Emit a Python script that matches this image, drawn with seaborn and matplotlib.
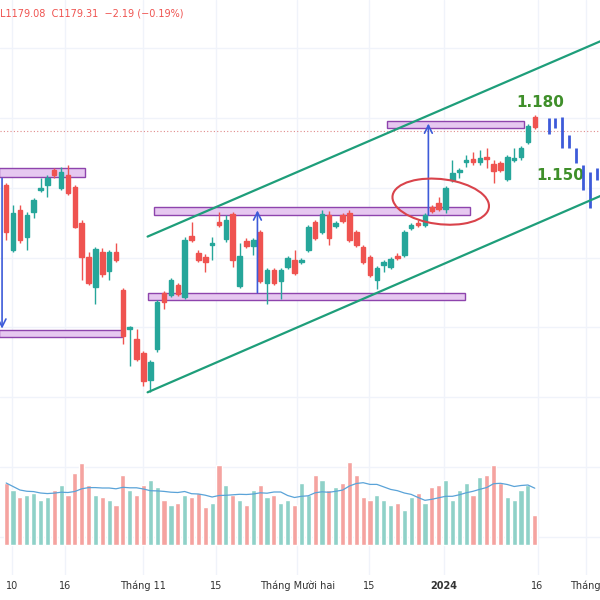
import numpy as np
import pandas as pd
import matplotlib.pyplot as plt
import seaborn as sns
from matplotlib.patches import Rectangle, Ellipse

sns.set_style('white')
plt.rcParams['font.family'] = ['DejaVu Sans']

# OHLC (price), one row per trading day
opens = [1165.75,1149.5,1159.5,1152.75,1159,1164.5,1165.75,1169.5,1165,1168.25,1165.25,1156.25,1147.75,1140.25,1149,1144.25,1149,1139.25,1129.5,1127,
         1123.5,1116.75,1124.5,1138.5,1138,1140.75,1137.5,1153,1148.75,1147.75,1150.75,1156.5,1152.25,1158.5,1140.5,1151.75,1150.5,1154,1141.25,1144.5,
         1141.75,1145.25,1147,1146.5,1149.5,1156.5,1154,1158.25,1155.5,1158.25,1158.75,1154,1150.25,1147.75,1142,1145.75,1145.25,1148,1148.25,1155,
         1156.25,1155.75,1160.25,1161.25,1159.75,1167,1169,1171.5,1172.25,1171.5,1172.75,1171,1171.25,1167.25,1172,1172.75,1176.5,1182.75]
closes = [1154,1158.75,1152,1158.25,1162,1165,1167.5,1168.25,1169,1163.75,1155.25,1147.75,1141.25,1149.75,1143.5,1149,1147,1127.75,1130,1122,
          1116.5,1121.25,1136.25,1136.25,1142,1138.25,1152,1152,1147,1146.5,1151,1155.75,1157,1147,1148,1150.5,1152,1141.75,1144.5,1141.25,
          1144.5,1147.5,1143.75,1146.75,1155.25,1152.5,1158.5,1152.5,1156.25,1156.75,1152,1150.75,1146.5,1143.25,1145,1146.5,1147.25,1147.5,1154,1155.75,
          1155.75,1158.25,1159.25,1159.75,1165,1168.75,1169.5,1172,1171.5,1172.5,1172.25,1169.25,1169.5,1172.75,1172.5,1175,1180.5,1180.25]
highs = [1166.25,1160.75,1160.75,1159,1162.5,1167.5,1168.25,1170,1170.25,1170.75,1165.75,1157,1149,1150.25,1150,1149.5,1151.25,1139.75,1130.25,1129.5,
         1124,1121.75,1136.75,1139,1142.5,1141.25,1152.75,1156.5,1149.5,1148.5,1152.75,1159,1158.25,1159,1151.25,1152.5,1152.5,1154.5,1145,1145,
         1145,1148,1149.5,1147.5,1155.75,1157,1159.5,1159.25,1156.75,1158.75,1159.5,1154.5,1150.75,1148.25,1145.5,1147,1147.75,1148.75,1154.5,1156.25,
         1157,1158.75,1160.75,1162.75,1165.5,1172,1170,1173.25,1174,1174.5,1175,1172,1171.75,1173.25,1175,1175.5,1181,1183.25]
lows = [1152,1149,1151.25,1149.5,1157.5,1164,1162.75,1167.5,1164.5,1163.25,1155,1142,1140.75,1135.75,1142.75,1142,1146.5,1125.75,1120.25,1121.5,
        1115.25,1113.75,1123.75,1134.5,1137.5,1137.75,1137,1151.5,1146.5,1144,1147,1155.25,1151.5,1145.25,1140,1150,1148.25,1141.25,1135.75,1140.75,
        1137,1144.75,1143.25,1146,1149,1152,1153.5,1150.75,1155,1156.25,1151.5,1150.25,1146,1142.75,1139.5,1144,1144.75,1147,1147.75,1154.5,
        1155.25,1155.25,1158.75,1159.25,1158.75,1166.5,1167.5,1170.25,1170.75,1170.75,1170,1166.25,1169,1166.75,1171.5,1172,1176,1179.75]
volumes = [62,55,48,50,52,45,48,55,60,50,72,82,60,50,48,45,40,70,55,50,60,65,58,45,40,42,50,48,52,38,42,80,60,50,45,40,55,60,48,50,
           42,45,40,62,50,70,65,55,58,62,83,70,48,45,50,45,40,42,35,48,52,42,58,60,65,45,55,62,50,68,70,80,62,48,45,55,60,30]

# projected path (blue bars)
proj_hi = [1182.5,1182.5,1182.75,1178.25,1175,1170.75,1169,1170]
proj_lo = [1178.5,1180,1175,1175,1171.25,1164.5,1160,1167]

tick_pos = [0.8, 8.6, 19.9, 30.6, 42.4, 52.8, 63.8, 77.4, 84.4]
tick_lbl = ['10', '16', 'Tháng 11', '15', 'Tháng Mười hai', '15', '2024', '16', 'Tháng']

df = pd.DataFrame({'o': opens, 'c': closes, 'h': highs, 'l': lows, 'v': volumes})
df['i'] = np.arange(len(df))
df['up'] = df.c >= df.o
df['ma'] = df.v.rolling(10, min_periods=1).mean()

GREEN, RED = '#26a69a', '#ef5350'
fig = plt.figure(figsize=(6, 6), dpi=100)
ax = fig.add_axes([0, 25/600, 1, 575/600])
axv = fig.add_axes([0, 25/600, 1, 575/600], sharex=ax)
axv.patch.set_alpha(0)

# volume
vcol = ['#8fd1c8' if u else '#f5a3a0' for u in df.up]
axv.bar(df.i, df.v, width=0.75, color=vcol, zorder=1)
sns.lineplot(x=df.i, y=df.ma, ax=axv, color='#5aa3d8', lw=0.9)
axv.set_ylim(-30, 545)
axv.axis('off')

# candles
for r in df.itertuples():
    col = GREEN if r.up else RED
    ax.vlines(r.i, r.l, r.h, color=col, lw=1, zorder=3)
    ax.add_patch(Rectangle((r.i - 0.33, min(r.o, r.c)), 0.66, max(abs(r.c - r.o), 0.3),
                           color=col, zorder=4))
pi = np.arange(len(df) + 1, len(df) + 1 + len(proj_hi))
ax.vlines(pi, proj_lo, proj_hi, color='#3d5bd9', lw=2, zorder=4)

ax.set_xlim(-0.9, 86.5)
ax.set_ylim(1068.0, 1212.0)

# channel lines
ax.plot([20.6, 87], [1152.75, 1202], color='#1e9e7a', lw=1.6, zorder=5)
ax.plot([20.6, 87], [1113.75, 1163.25], color='#1e9e7a', lw=1.6, zorder=5)

# zones
for x0, x1, y0, y1 in [(-1, 11.5, 1167.75, 1170), (-1, 16.8,1127.5, 1129.25), (21.5, 67.5, 1158.25, 1160.25),
                       (20.6, 66.8, 1136.75, 1138.5), (55.5, 75.5, 1180, 1181.75)]:
    ax.add_patch(Rectangle((x0, y0), x1 - x0, y1 - y0, facecolor='#e6c8f0', edgecolor='#8e44ad', lw=1, zorder=2))

arr = dict(arrowstyle='->', color='#3d5bd9', lw=1.2, mutation_scale=14)
ax.annotate('', xy=(-0.6, 1129), xytext=(-0.6, 1168), arrowprops=arr, zorder=6)
ax.annotate('', xy=(36.6, 1160), xytext=(36.6, 1138), arrowprops=arr, zorder=6)
ax.annotate('', xy=(61.5, 1181.75), xytext=(61.5, 1157.5), arrowprops=arr, zorder=6)
ax.add_patch(Ellipse((63.3, 1161.5), 14.5, 11, angle=-22, fill=False, edgecolor='#d9434b', lw=1.5, zorder=6))

ax.text(74.3, 1185.3, '1.180', color='#3f8f2a', fontsize=11, fontweight='bold')
ax.text(77.2, 1167, '1.150', color='#3f8f2a', fontsize=11, fontweight='bold')
ax.axhline(1179.31, color='#e08a8a', lw=0.8, ls=(0, (1, 2)), zorder=1)

for y in np.arange(1077.5, 1212, 17.5):
    ax.axhline(y, color='#f0f3fa', lw=1, zorder=0)
for x in tick_pos:
    ax.axvline(x, color='#f0f3fa', lw=1, zorder=0)

ax.set_xticks(tick_pos)
ax.set_xticklabels(tick_lbl, fontsize=7, color='#333333')
ax.get_xticklabels()[6].set_fontweight('bold')
ax.tick_params(axis='x', length=0, pad=4)
ax.set_yticks([])
for s in ax.spines.values():
    s.set_visible(False)
plt.setp(axv.get_xticklabels(), visible=False)

fig.text(0.0, 0.985, 'L1179.08  C1179.31  \u22122.19 (\u22120.19%)', color='#ef5350', fontsize=7, va='top')

fig.savefig('out.png', dpi=100)
